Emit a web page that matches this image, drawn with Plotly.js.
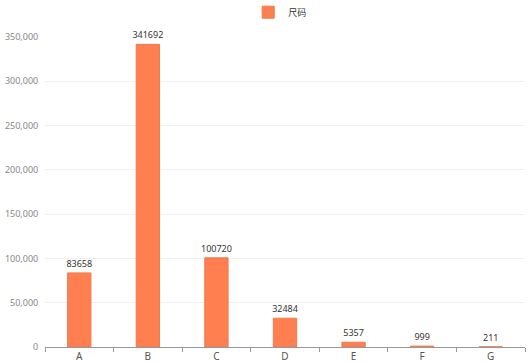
<!DOCTYPE html>
<html><head><meta charset="utf-8">
<script src="https://cdn.plot.ly/plotly-3.0.1.min.js"></script>
<style>html,body{margin:0;padding:0;background:#fff}#c{width:530px;height:363px}</style>
</head><body><div id="c"></div>
<script>
const categories = ['A','B','C','D','E','F','G'];
const values = [83658, 341692, 100720, 32484, 5357, 999, 211];
const seriesName = '尺码';
const yTicks = [0, 50000, 100000, 150000, 200000, 250000, 300000, 350000];
const yTickLabels = ['0','50,000','100,000','150,000','200,000','250,000','300,000','350,000'];

Plotly.newPlot('c', [{
  type: 'bar', x: categories, y: values, name: seriesName,
  marker: {color: '#ff7f50', line: {color: '#f07a4c', width: 1}},
  width: 0.34,
  text: values.map(String), textposition: 'outside', cliponaxis: false, constraintext: 'none',
  textfont: {family: 'Noto Sans, sans-serif', size: 9, color: '#333'}
}], {
  width: 530, height: 363,
  margin: {l: 45, r: 5, t: 37, b: 16, autoexpand: false},
  paper_bgcolor: '#fff', plot_bgcolor: '#fff',
  font: {family: 'Noto Sans, sans-serif', size: 9, color: '#777'},
  showlegend: true,
  legend: {orientation: 'h', x: 0.49, xanchor: 'center', y: 1.08, yanchor: 'middle',
    font: {family: 'Noto Sans CJK SC, sans-serif', size: 9, color: '#333'}},
  xaxis: {type: 'category', showline: true, linecolor: '#999', linewidth: 1,
    ticks: 'outside', tickson: 'boundaries', ticklen: 4, tickcolor: '#999',
    showgrid: false, tickfont: {size: 10, color: '#555'}, fixedrange: true},
  yaxis: {range: [0, 350000], tickvals: yTicks, ticktext: yTickLabels,
    showgrid: true, gridcolor: '#f0f0f0', zeroline: false, showline: false,
    ticks: 'outside', ticklen: 4, tickcolor: '#fff', tickfont: {size: 9, color: '#888'}},
  bargap: 0.66
}, {displayModeBar: false, staticPlot: true});
</script></body></html>
